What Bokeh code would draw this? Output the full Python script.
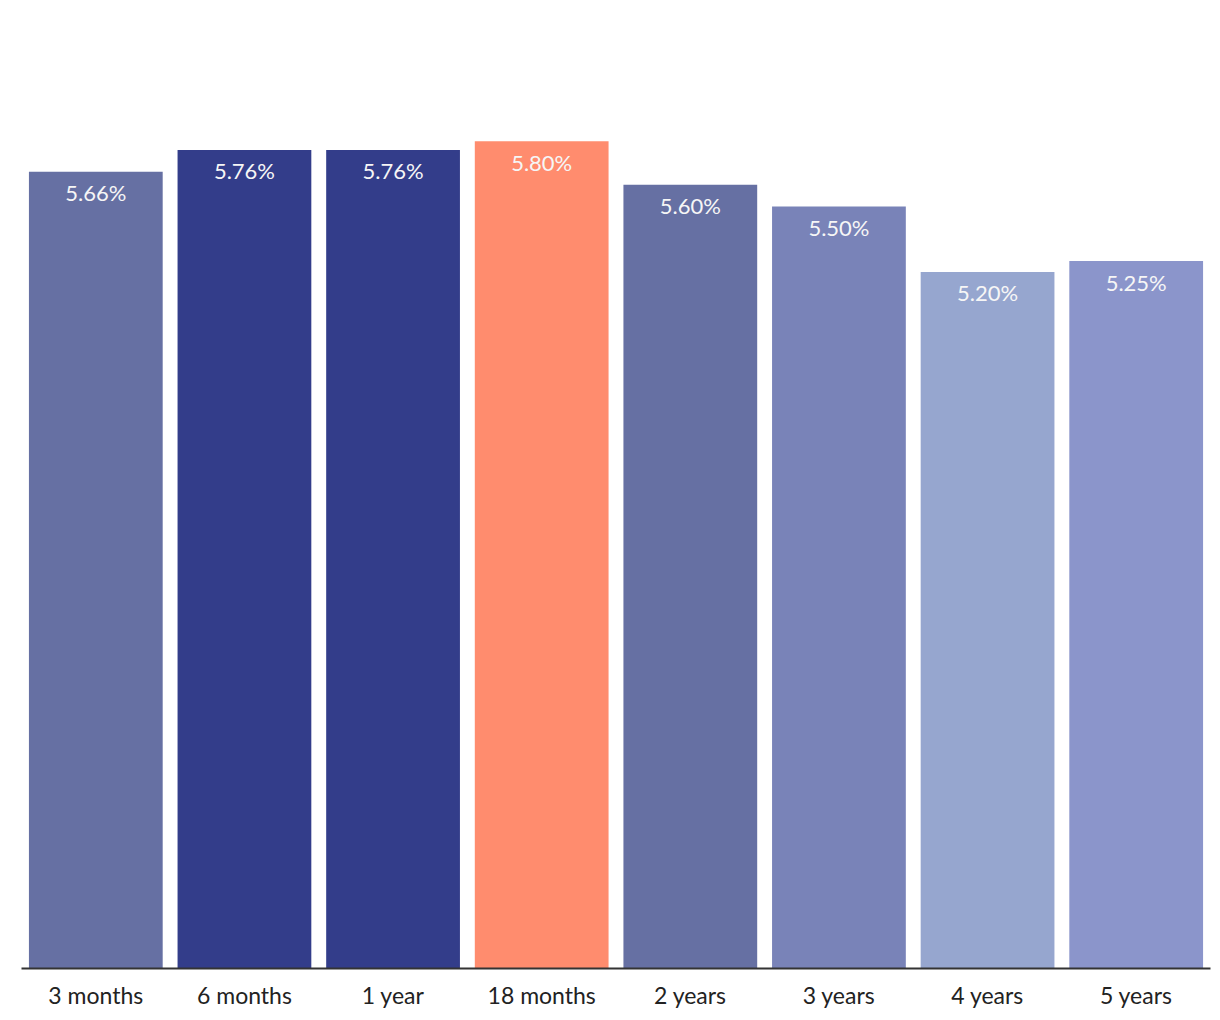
from bokeh.plotting import figure
from bokeh.models import ColumnDataSource, FactorRange, Range1d, LabelSet
from bokeh.core.properties import value
from bokeh.embed import file_html
from bokeh.resources import INLINE

terms = ["3 months", "6 months", "1 year", "18 months", "2 years", "3 years", "4 years", "5 years"]
rates = [5.66, 5.76, 5.76, 5.80, 5.60, 5.50, 5.20, 5.25]
colors = ["#6670a3", "#333d8a", "#333d8a", "#ff8c6e", "#6670a3", "#7983b8", "#96a6cf", "#8b95cb"]
labels = ["%.2f%%" % r for r in rates]

src = ColumnDataSource(dict(term=terms, rate=rates, color=colors, label=labels))

FONT = "Lato"

p = figure(x_range=FactorRange(factors=terms, range_padding=0), y_range=Range1d(2.0, 6.41),
           width=1220, height=1011, output_backend="svg", toolbar_location=None,
           min_border_left=21, min_border_right=10, min_border_top=8, min_border_bottom=38)

p.vbar(x="term", top="rate", bottom=2.0, width=0.9, color="color", source=src, line_color=None)

lbl = LabelSet(x="term", y="rate", text="label", source=src, y_offset=-21,
               text_align="center", text_baseline="middle", text_color="#f6f6f6",
               text_font=value(FONT), text_font_size="22px")
p.add_layout(lbl)

p.yaxis.visible = False
p.xgrid.grid_line_color = None
p.ygrid.grid_line_color = None
p.outline_line_color = None
p.xaxis.axis_line_color = "#333333"
p.xaxis.axis_line_width = 2
p.xaxis.major_tick_line_color = None
p.xaxis.minor_tick_line_color = None
p.xaxis.major_tick_out = 0
p.xaxis.major_tick_in = 0
p.xaxis.major_label_standoff = 12
p.xaxis.major_label_text_font = FONT
p.xaxis.major_label_text_font_size = "23px"
p.xaxis.major_label_text_color = "#222222"

open("out.html", "w").write(file_html(p, INLINE))
